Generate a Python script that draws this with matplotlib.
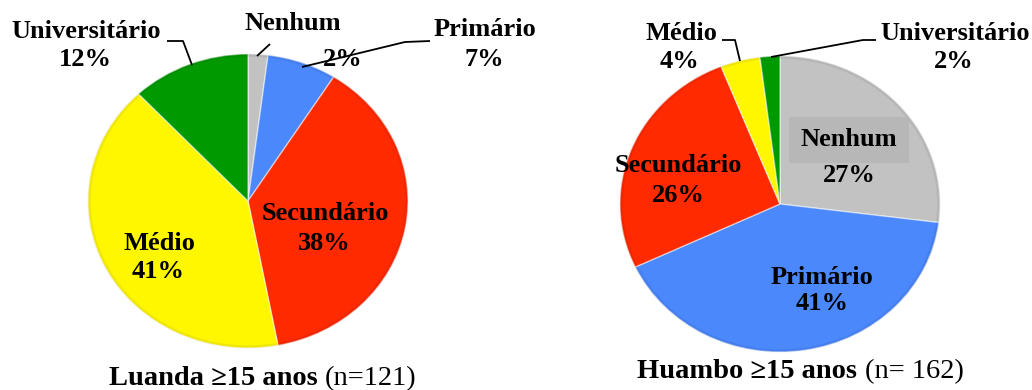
import matplotlib
matplotlib.use("Agg")
import matplotlib.pyplot as plt
from matplotlib.patches import Ellipse

# Education level distribution, people aged 15+
categories = ["Nenhum", "Primário", "Secundário", "Médio", "Universitário"]
luanda_pct = [2, 7, 38, 41, 12]
huambo_pct = [27, 41, 26, 4, 2]
luanda_title = ("Luanda \u226515 anos", "(n=121)")
huambo_title = ("Huambo \u226515 anos", "(n= 162)")

colors = {
    "Nenhum": "#C2C2C2",
    "Primário": "#4A88FC",
    "Secundário": "#FF2A00",
    "Médio": "#FFF700",
    "Universitário": "#009A00",
}

W, H = 1032, 390
fig = plt.figure(figsize=(W / 100, H / 100), dpi=100)
fig.patch.set_facecolor("white")

SERIF = ["Liberation Serif", "DejaVu Serif"]
LBL = 19


def pie_axes(cx, cy, rx, ry):
    ax = fig.add_axes([(cx - rx) / W, (H - (cy + ry)) / H, 2 * rx / W, 2 * ry / H])
    return ax


def draw_pie(ax, values):
    wedges, _ = ax.pie(values, colors=[colors[c] for c in categories],
                       startangle=90, counterclock=False, radius=1.0,
                       wedgeprops=dict(edgecolor=(1, 1, 1, 0.5), linewidth=1.0))
    ax.set_aspect("auto")
    ax.set_xlim(-1, 1)
    ax.set_ylim(-1, 1)
    ax.axis("off")
    for w in wedges:
        w.set_clip_on(False)
    # soft darkening toward the rim
    for k in range(4):
        r = 1.0 - k * 0.005
        ax.add_patch(Ellipse((0, 0), 2 * r, 2 * r, fill=False,
                             edgecolor=(0, 0, 0, 0.035), linewidth=1.0,
                             clip_on=False))


axL = pie_axes(248, 201, 160, 147)
draw_pie(axL, luanda_pct)
axR = pie_axes(780, 204, 160, 148)
draw_pie(axR, huambo_pct)

# overlay in pixel coordinates for labels and leader lines
ov = fig.add_axes([0, 0, 1, 1], facecolor="none")
ov.set_xlim(0, W)
ov.set_ylim(H, 0)
ov.axis("off")


def lab(x, y, s, **kw):
    ov.text(x, y, s, ha="center", va="center", fontsize=LBL,
            fontweight="bold", family=SERIF, **kw)


def leader(pts):
    xs, ys = zip(*pts)
    ov.plot(xs, ys, color="black", lw=1.3, solid_capstyle="butt")


# Luanda labels
L = dict(zip(categories, luanda_pct))
lab(293, 23, "Nenhum")
lab(343, 59, f"{L['Nenhum']}%")
lab(485, 30, "Primário")
lab(484, 60, f"{L['Primário']}%")
lab(86, 31, "Universitário")
lab(85, 60, f"{L['Universitário']}%")
lab(159, 243, "Médio")
lab(158, 272, f"{L['Médio']}%")
lab(325, 213, "Secundário")
lab(324, 243, f"{L['Secundário']}%")
leader([(257, 56), (270, 44)])
leader([(302, 67), (405, 42), (430, 41)])
leader([(192, 65), (183, 41), (167, 41)])

# Huambo labels
Hb = dict(zip(categories, huambo_pct))
lab(681, 33, "Médio")
lab(679, 62, f"{Hb['Médio']}%")
lab(955, 33, "Universitário")
lab(954, 62, f"{Hb['Universitário']}%")
ov.text(849, 140, "Nenhum", ha="center", va="center", fontsize=LBL,
        fontweight="bold", family=SERIF,
        bbox=dict(boxstyle="square,pad=0.45", facecolor="#B7B7B7",
                  edgecolor="none"))
lab(849, 175, f"{Hb['Nenhum']}%")
lab(678, 165, "Secundário")
lab(678, 195, f"{Hb['Secundário']}%")
lab(822, 277, "Primário")
lab(822, 304, f"{Hb['Primário']}%")
leader([(740, 61), (735, 40), (722, 40)])
leader([(771, 57), (863, 40), (876, 40)])

# titles: bold place name, regular sample size
TS = 20.5
ov.text(318, 385, luanda_title[0], ha="right", va="baseline", fontsize=TS,
        fontweight="bold", family=SERIF)
ov.text(325, 385, luanda_title[1], ha="left", va="baseline", fontsize=TS,
        family=SERIF)
ov.text(857, 378, huambo_title[0], ha="right", va="baseline", fontsize=TS,
        fontweight="bold", family=SERIF)
ov.text(865, 378, huambo_title[1], ha="left", va="baseline", fontsize=TS,
        family=SERIF)

fig.savefig("out.png", dpi=100)
